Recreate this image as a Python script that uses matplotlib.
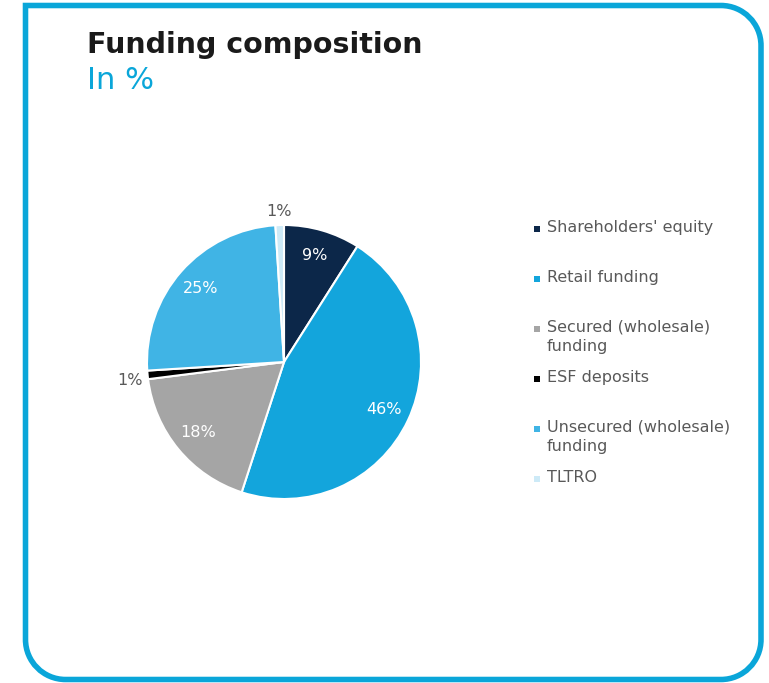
#funding composition pie with a rounded frame around it
import matplotlib.pyplot as plt
from matplotlib.path import Path
from matplotlib.patches import PathPatch, Rectangle
import numpy as np

labels = ["Shareholders' equity", "Retail funding", "Secured (wholesale)\nfunding",
          "ESF deposits", "Unsecured (wholesale)\nfunding", "TLTRO"]
shares = [9, 46, 18, 1, 25, 1]
colors = ['#0c2749', '#13a5dc', '#a5a5a5', '#000000', '#40b4e5', '#cdeaf7']

W, H = 769, 683
frame_color = '#0aa6d9'
text_gray = '#595959'

fig = plt.figure(figsize=(W / 100, H / 100), dpi=100)

#overlay axes in pixel coordinates for frame, title and legend
bg = fig.add_axes([0, 0, 1, 1])
bg.set_xlim(0, W)
bg.set_ylim(H, 0)
bg.axis('off')

#frame: square top-left corner, rounded elsewhere
x0, x1, y0, y1, r = 25.5, 761, 5.5, 679.5, 40
k = 0.5523
verts = [(x0, y0), (x1 - r, y0),
         (x1 - r + r * k, y0), (x1, y0 + r - r * k), (x1, y0 + r),
         (x1, y1 - r),
         (x1, y1 - r + r * k), (x1 - r + r * k, y1), (x1 - r, y1),
         (x0 + r, y1),
         (x0 + r - r * k, y1), (x0, y1 - r + r * k), (x0, y1 - r),
         (x0, y0)]
codes = [Path.MOVETO, Path.LINETO,
         Path.CURVE4, Path.CURVE4, Path.CURVE4,
         Path.LINETO,
         Path.CURVE4, Path.CURVE4, Path.CURVE4,
         Path.LINETO,
         Path.CURVE4, Path.CURVE4, Path.CURVE4,
         Path.CLOSEPOLY]
bg.add_patch(PathPatch(Path(verts, codes), facecolor='none', edgecolor=frame_color,
                       lw=4.0, joinstyle='miter'))

#title
bg.text(87, 53, 'Funding composition', fontsize=20.5, fontweight='bold',
        color='#1a1a1a', va='baseline', ha='left')
bg.text(87, 89, 'In %', fontsize=22, color=frame_color, va='baseline', ha='left')

#legend drawn by hand so every entry sits 50px apart
for i, (lab, col) in enumerate(zip(labels, colors)):
    y = 232 + 50 * i
    bg.add_patch(Rectangle((534, y - 6.5), 6, 6, facecolor=col, edgecolor='none'))
    for j, line in enumerate(lab.split('\n')):
        bg.text(547, y + 19 * j, line, fontsize=11.5, color=text_gray,
                va='baseline', ha='left')

#pie axes: centre (284, 362), radius 137 px
cx, cy, rad, lim = 284, 362, 137, 1.3
side = 2 * lim * rad
ax = fig.add_axes([(cx - side / 2) / W, (H - cy - side / 2) / H, side / W, side / H])
wedges, _ = ax.pie(shares, colors=colors, startangle=90, counterclock=False,
                   wedgeprops=dict(edgecolor='white', linewidth=1.5))
ax.set_xlim(-lim, lim)
ax.set_ylim(-lim, lim)
ax.axis('off')

for w, val in zip(wedges, shares):
    mid = np.deg2rad((w.theta1 + w.theta2) / 2)
    if val < 3:
        dist, col = 1.13, text_gray
    else:
        dist, col = 0.81, 'white'
    ax.text(dist * np.cos(mid), dist * np.sin(mid) - (0.03 if val < 3 else 0),
            f'{val}%', fontsize=11.5, color=col, ha='center', va='center')

fig.savefig('out.png', dpi=100)
